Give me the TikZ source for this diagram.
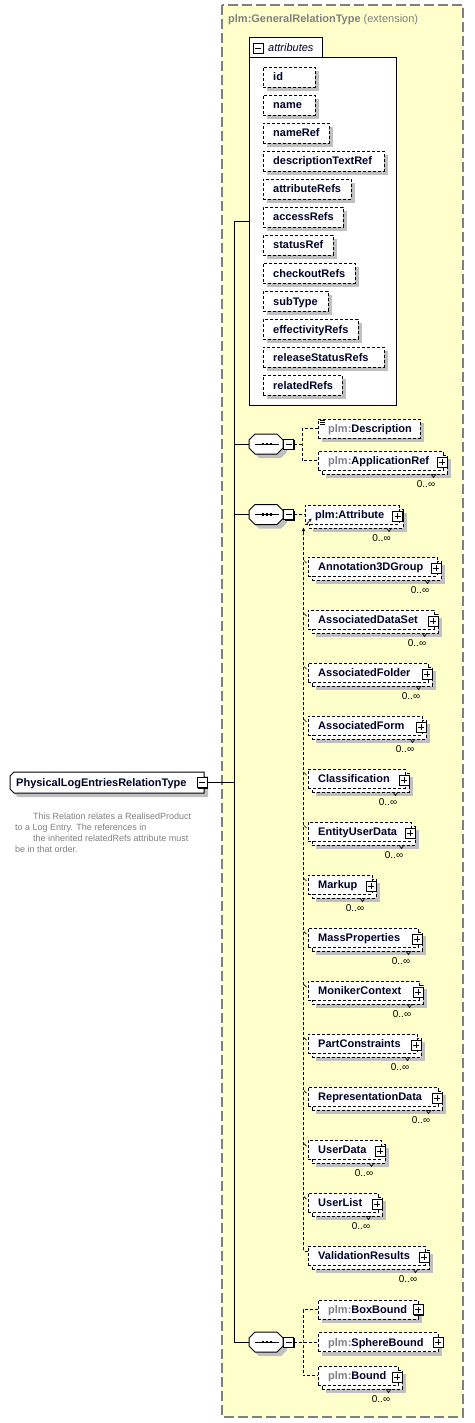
\documentclass[tikz,border=0pt]{standalone}
\usepackage{fontspec}
\setmainfont{Liberation Sans}
\usetikzlibrary{shadows,arrows.meta}
\definecolor{ylw}{RGB}{255,255,204}
\definecolor{bordergray}{RGB}{128,128,128}
\definecolor{shadowgray}{RGB}{192,192,192}
\definecolor{nametxt}{RGB}{0,0,40}
\definecolor{prefix}{RGB}{128,128,128}
\definecolor{doctxt}{RGB}{128,128,128}
\tikzset{
  ebox/.style={draw=black, line width=0.9pt, dash pattern=on 3pt off 2pt, fill=white, inner sep=0pt, minimum height=19pt},
  abox/.style={ebox, minimum height=20pt},
  shad/.style={general shadow={shadow xshift=4pt, shadow yshift=-4pt, fill=shadowgray}},
  etext/.style={font=\fontsize{11}{13}\selectfont\bfseries, text=nametxt, inner sep=0pt, anchor=base west},
  mult/.style={font=\fontsize{10}{12}\selectfont, text=black, inner sep=0pt},
  doc/.style={font=\fontsize{9}{11}\selectfont, text=doctxt, inner sep=0pt, anchor=base west},
  pmbox/.style={draw=black, solid, line width=0.9pt, fill=white, minimum size=10pt, inner sep=0pt,
    general shadow={shadow xshift=1pt, shadow yshift=-1pt, fill=black}},
  plusbox/.style={pmbox, path picture={\draw[black, solid, line width=0.9pt]
    ([xshift=2pt]path picture bounding box.west) -- ([xshift=-2pt]path picture bounding box.east)
    ([yshift=-2pt]path picture bounding box.north) -- ([yshift=2pt]path picture bounding box.south);}},
  minusbox/.style={pmbox, path picture={\draw[black, solid, line width=0.9pt]
    ([xshift=2pt]path picture bounding box.west) -- ([xshift=-2pt]path picture bounding box.east);}},
  conn/.style={black, line width=0.9pt, dash pattern=on 3pt off 2pt},
  mainline/.style={black, line width=1pt},
  tinyline/.style={black, line width=0.7pt, solid},
}
% attribute box: name, text, top, right
\newcommand\attrbox[4]{%
  \node[abox, shad, minimum width={#4-263}, anchor=north west] (#1) at (263,#3) {};
  \node[etext] (#1-t) at (273,{#3+14}) {#2};
}
% single element: name, text, x0, yc, xr
\newcommand\selem[5]{%
  \node[ebox, shad, minimum width={#5-#3}, anchor=west] (#1) at (#3,#4) {};
  \node[etext] (#1-t) at ({#3+10},{#4+4}) {#2};
}
\newcommand\spluselem[5]{%
  \selem{#1}{#2}{#3}{#4}{#5}
  \node[plusbox] (#1-p) at (#5,#4) {};
}
% multiple element: name, text, x0, yc, plus centre
\newcommand\melem[5]{%
  \node[ebox, shad, minimum width={#5+1-#3}, anchor=west] (#1-b) at ({#3+4},{#4+4}) {};
  \node[ebox, minimum width={#5+1-#3}, anchor=west] (#1) at (#3,#4) {};
  \node[etext] (#1-t) at ({#3+10},{#4+4}) {#2};
  \node[plusbox] (#1-p) at (#5,{#4+1.5}) {};
  \node[mult] (#1-m) at ({#5-16},{#4+24}) {0..∞};
  \draw[tinyline] ({#5-11},{#4+13.5}) -- ({#5-8.5},{#4+17}) -- ({#5-6},{#4+13.5});
}
% substitution member
\newcommand\subelem[4]{%
  \melem{#1}{#2}{308}{#3}{#4}
  \draw[tinyline] (304,{#3-6}) -- (306.5,{#3-3.5});
}
% sequence symbol: name, cx, cy
\newcommand\seqsym[3]{%
  \node[inner sep=0pt, minimum width=34pt, minimum height=20pt] (#1) at (#2,#3) {};
  \begin{scope}[shift={(#2,#3)}]
    \fill[shadowgray] (-7,-6) -- (15,-6) -- (21,0) -- (21,8) -- (15,14) -- (-7,14) -- (-13,8) -- (-13,0) -- cycle;
    \draw[black, line width=1pt, fill=white] (-11,-10) -- (11,-10) -- (17,-4) -- (17,4) -- (11,10) -- (-11,10) -- (-17,4) -- (-17,-4) -- cycle;
    \draw[black, line width=1pt] (-11,0) -- (13,0);
    \foreach \d in {-3,1,5} \fill[black] ({\d-1.4},-1.4) rectangle ({\d+1.4},1.4);
  \end{scope}
  \node[minusbox] (#1-m) at ({#2+22.5},#3) {};
}
\begin{document}
\begin{tikzpicture}[x=1pt,y=-1pt]
\useasboundingbox (0,0) rectangle (474,1423);
\fill[white] (0,0) rectangle (474,1423);
% extension area
\draw[bordergray, line width=1.2pt, dash pattern=on 10pt off 4pt, fill=ylw] (222,5) rectangle (463,1417);
\node[font=\fontsize{11}{13}\selectfont, text=bordergray, anchor=base west, inner sep=0pt] (title) at (228,23)
  {\textbf{plm:GeneralRelationType} (extension)};

% attributes group
\node[draw=black, line width=1pt, fill=white, minimum width=147pt, minimum height=348pt, anchor=north west, inner sep=0pt] (attrs) at (249,57) {};
\fill[white] (249.5,38.5) rectangle (321.5,57.5);
\draw[black, line width=1pt] (249,57) -- (249,38) -- (322,38) -- (322,57);
\node[minusbox] (attrs-m) at (258,48.5) {};
\node[font=\fontsize{11}{13}\selectfont\itshape, text=nametxt, anchor=base west, inner sep=0pt] (attrs-t) at (268,52) {attributes};
\attrbox{a1}{id}{67}{315}
\attrbox{a2}{name}{95}{315}
\attrbox{a3}{nameRef}{123}{329}
\attrbox{a4}{descriptionTextRef}{151}{384}
\attrbox{a5}{attributeRefs}{179}{351}
\attrbox{a6}{accessRefs}{207}{343}
\attrbox{a7}{statusRef}{235}{333}
\attrbox{a8}{checkoutRefs}{263}{355}
\attrbox{a9}{subType}{291}{328}
\attrbox{a10}{effectivityRefs}{319}{358}
\attrbox{a11}{releaseStatusRefs}{347}{384}
\attrbox{a12}{relatedRefs}{375}{342}

% root node
\node[inner sep=0pt, minimum width=194pt, minimum height=21pt] (root) at (107,782.5) {};
\fill[shadowgray] (18,776) -- (208,776) -- (208,797) -- (18,797) -- (14,793) -- (14,780) -- cycle;
\draw[black, line width=1pt, fill=white] (14,772) -- (204,772) -- (204,793) -- (14,793) -- (10,789) -- (10,776) -- cycle;
\node[etext] (root-t) at (16,786.5) {PhysicalLogEntriesRelationType};
\node[minusbox] (root-m) at (202,782.5) {};
\node[doc] (doc1) at (33,819.5) {This Relation relates a RealisedProduct};
\node[doc] (doc2) at (15,830.5) {to a Log Entry. The references in};
\node[doc] (doc3) at (33,841.5) {the inherited relatedRefs attribute must};
\node[doc] (doc4) at (15,852.5) {be in that order.};

% main bus
\coordinate (bustop) at (234,222);
\coordinate (busbot) at (234,1342);
\draw[mainline] (bustop) -- (busbot);
\draw[mainline] (root-m.east) -- (root-m.east -| bustop);
\draw[mainline] (bustop) -- (bustop -| attrs.west);

% sequences
\seqsym{s1}{266}{444}
\seqsym{s2}{266}{514.5}
\seqsym{s3}{266}{1342}
\draw[mainline] (s1.west -| bustop) -- (s1.west);
\draw[mainline] (s2.west -| bustop) -- (s2.west);
\draw[mainline] (s3.west -| bustop) -- (s3.west);

% sequence 1
\selem{desc}{\textcolor{prefix}{plm:}Description}{318}{428.5}{420}
\draw[tinyline] (320,420.5) -- (325,420.5) (320,422.5) -- (325,422.5) (320,424.5) -- (325,424.5);
\melem{appref}{\textcolor{prefix}{plm:}ApplicationRef}{318}{460.5}{442}
\coordinate (j1) at (302,444);
\draw[conn] (s1-m.east) -- (j1);
\draw[conn] (desc.west) -| (j1) |- (appref.west);

% sequence 2
\melem{attr}{plm:Attribute}{305}{514.5}{397.5}
\draw[conn] (s2-m.east) -- (attr.west);
\subelem{a3d}{Annotation3DGroup}{566.5}{436}
\subelem{ads}{AssociatedDataSet}{619.5}{433}
\subelem{afo}{AssociatedFolder}{672.5}{427}
\subelem{afm}{AssociatedForm}{725.5}{421}
\subelem{cls}{Classification}{778.5}{404}
\subelem{eud}{EntityUserData}{831.5}{410}
\subelem{mkp}{Markup}{884.5}{371}
\subelem{msp}{MassProperties}{937.5}{417}
\subelem{mnk}{MonikerContext}{990.5}{418}
\subelem{pct}{PartConstraints}{1043.5}{416}
\subelem{rpd}{RepresentationData}{1096.5}{437}
\subelem{usd}{UserData}{1149.5}{380}
\subelem{usl}{UserList}{1202.5}{377}
\melem{vrs}{ValidationResults}{308}{1255.5}{424}
\coordinate (subtop) at (303.5,533);
\draw[conn, rounded corners=2pt] ([yshift=4pt]vrs.west) -| (subtop);
\draw[tinyline, -{Stealth[length=4pt,width=3.5pt]}] (subtop) -- (303.5,527.5);
\draw[tinyline, -{Stealth[length=3pt,width=3pt]}] (306,525) -- (311.5,518.5);

% sequence 3
\spluselem{boxb}{\textcolor{prefix}{plm:}BoxBound}{318}{1309.5}{418}
\spluselem{sphb}{\textcolor{prefix}{plm:}SphereBound}{318}{1342}{438}
\melem{bound}{\textcolor{prefix}{plm:}Bound}{318}{1375.5}{397}
\coordinate (j3) at (303,1342);
\draw[conn] (s3-m.east) -- (sphb.west);
\draw[conn] (boxb.west) -| (j3) |- (bound.west);
\end{tikzpicture}
\end{document}
